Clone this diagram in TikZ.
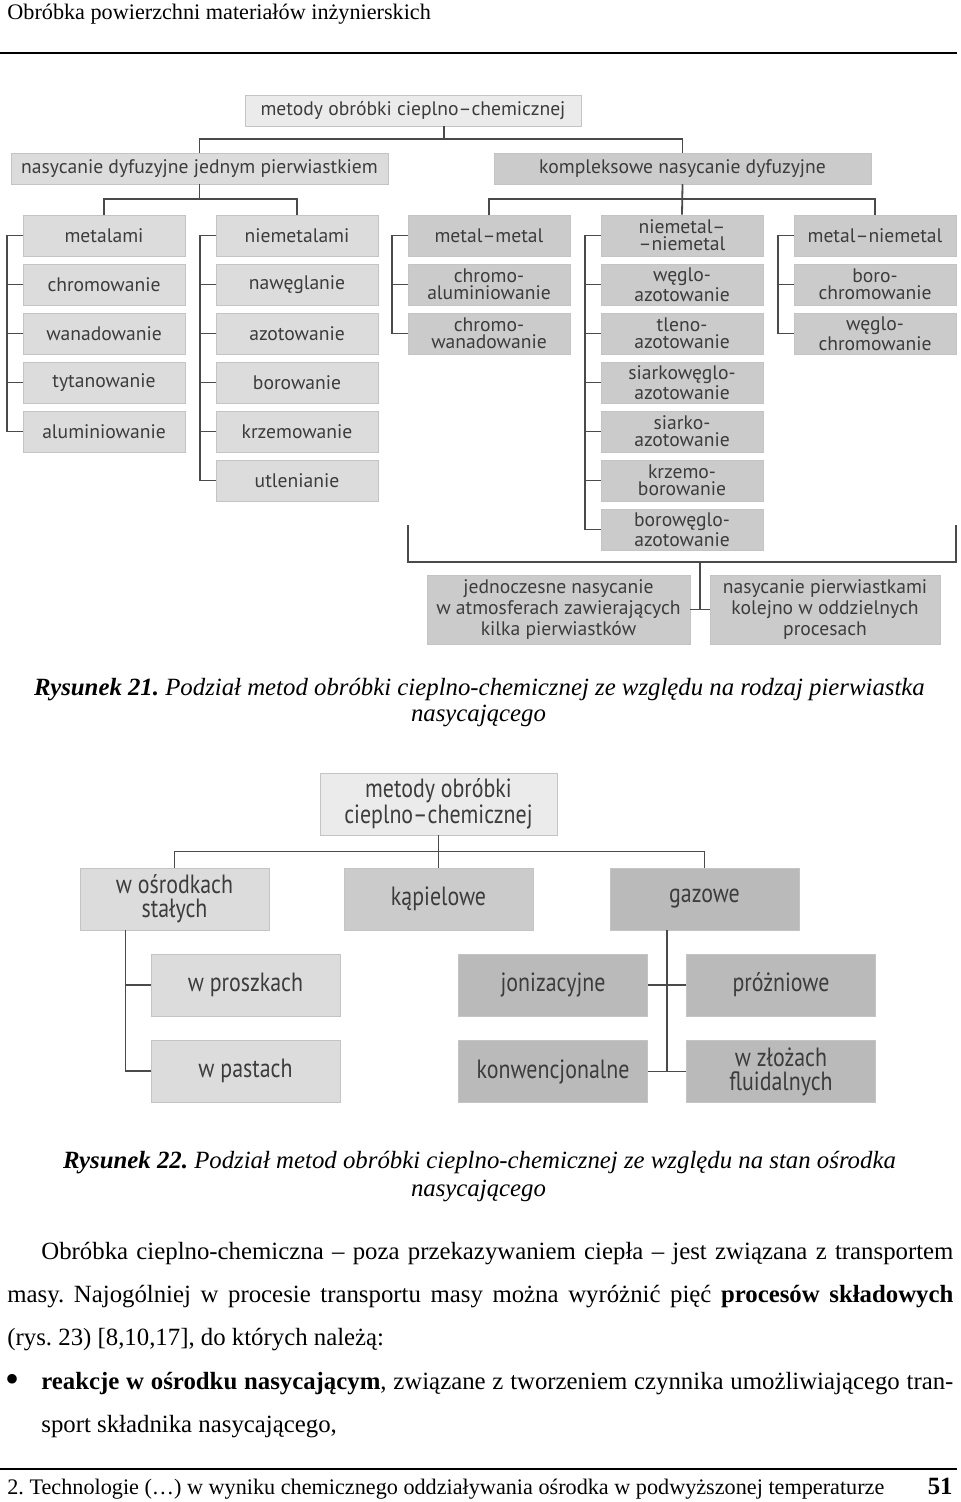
\documentclass[tikz,border=0pt]{standalone}
\usepackage{fontspec}
\setmainfont{Liberation Serif}
\newfontfamily\dfont{PT Sans}
\newfontfamily\dnarrow[FakeStretch=0.83]{PT Sans}
\usetikzlibrary{positioning}
\frenchspacing

\definecolor{boxtext}{HTML}{3C3C3C}
\definecolor{linegray}{HTML}{4A4A4A}
\definecolor{edgegray}{HTML}{C4C4C4}
\definecolor{fillA}{HTML}{EBEBEB}
\definecolor{fillB}{HTML}{DCDCDC}
\definecolor{fillC}{HTML}{CBCBCB}
\definecolor{fillD}{HTML}{BABABA}

\begin{document}
\begin{tikzpicture}[
            x = 0.5pt, y = -0.5pt, % one unit = one pixel of the page
            node distance = 24.5pt, % row pitch
        ]
        \useasboundingbox (0,0) rectangle (960,1502);

        \tikzstyle{box}=[
            rectangle,
            inner sep = 0pt,
            align = center,
            text = boxtext,
            draw = edgegray,
            line width = 0.4pt
        ]
        \tikzstyle{cell}=[box, minimum width = 81pt, minimum height = 20.5pt,
            font = \dfont\fontsize{9.8}{8.6}\selectfont]
        \tikzstyle{cellA}=[cell, fill = fillB]
        \tikzstyle{cellB}=[cell, fill = fillC]
        \tikzstyle{wide}=[box, minimum width = 188.5pt, minimum height = 15.5pt,
            font = \dfont\fontsize{9.8}{10}\selectfont]
        \tikzstyle{big}=[box, minimum width = 94.5pt, minimum height = 31pt,
            font = \dnarrow\fontsize{13.2}{12}\selectfont]
        \tikzstyle{conn}=[draw = linegray, line width = 0.9pt]
        \tikzstyle{body}=[inner sep = 0pt, anchor = base west,
            font = \fontsize{12.4}{14}\selectfont]
        \tikzstyle{caption}=[inner sep = 0pt, anchor = base,
            font = \itshape\fontsize{12.4}{14}\selectfont]

        % page head
        \node[body, font = \fontsize{11.1}{14}\selectfont] (head) at (7,20) {Obróbka powierzchni materiałów inżynierskich};
        \draw[line width = 1pt] (0,53) -- (957,53);

        % Rysunek 21
        \node[box, fill = fillA, minimum width = 168pt, minimum height = 15.5pt,
            font = \dfont\fontsize{9.8}{10}\selectfont] (top1) at (413,110.5) {metody obróbki cieplno–chemicznej};
        \node[wide, fill = fillB] (nas) at (199.5,168.5) {nasycanie dyfuzyjne jednym pierwiastkiem};
        \node[wide, fill = fillC] (kom) at (682.5,168.5) {kompleksowe nasycanie dyfuzyjne};

        \node[cellA] (met0) at (104,235.5) {metalami};
        \node[cellA] (met1) [below of=met0] {chromowanie};
        \node[cellA] (met2) [below of=met1] {wanadowanie};
        \node[cellA] (met3) [below of=met2] {tytanowanie};
        \node[cellA] (met4) [below of=met3] {aluminiowanie};

        \node[cellA] (nie0) at (297,235.5) {niemetalami};
        \node[cellA] (nie1) [below of=nie0] {nawęglanie};
        \node[cellA] (nie2) [below of=nie1] {azotowanie};
        \node[cellA] (nie3) [below of=nie2] {borowanie};
        \node[cellA] (nie4) [below of=nie3] {krzemowanie};
        \node[cellA] (nie5) [below of=nie4] {utlenianie};

        \node[cellB] (mm0) at (489,235.5) {metal–metal};
        \node[cellB] (mm1) [below of=mm0] {chromo-\\aluminiowanie};
        \node[cellB] (mm2) [below of=mm1] {chromo-\\wanadowanie};

        \node[cellB] (nn0) at (682,235.5) {niemetal–\\–niemetal};
        \node[cellB] (nn1) [below of=nn0] {węglo-\\azotowanie};
        \node[cellB] (nn2) [below of=nn1] {tleno-\\azotowanie};
        \node[cellB] (nn3) [below of=nn2] {siarkowęglo-\\azotowanie};
        \node[cellB] (nn4) [below of=nn3] {siarko-\\azotowanie};
        \node[cellB] (nn5) [below of=nn4] {krzemo-\\borowanie};
        \node[cellB] (nn6) [below of=nn5] {borowęglo-\\azotowanie};

        \node[cellB] (mn0) at (875,235.5) {metal–niemetal};
        \node[cellB] (mn1) [below of=mn0] {boro-\\chromowanie};
        \node[cellB] (mn2) [below of=mn1] {węglo-\\chromowanie};

        \node[box, fill = fillC, minimum width = 131.5pt, minimum height = 34.5pt,
            font = \dfont\fontsize{9.8}{10.5}\selectfont] (jed) at (558.5,609.5) {jednoczesne nasycanie\\w atmosferach zawierających\\kilka pierwiastków};
        \node[box, fill = fillC, minimum width = 115pt, minimum height = 34.5pt,
            font = \dfont\fontsize{9.8}{10.5}\selectfont] (kol) at (825,609.5) {nasycanie pierwiastkami\\kolejno w oddzielnych\\procesach};

        \draw[conn] ([xshift=15.5pt]top1.south) -- ++(0,13) -| (nas.north);
        \draw[conn] ([xshift=15.5pt]top1.south) -- ++(0,13) -| (kom.north);
        \draw[conn] (nas.south) -- ++(0,15) -| (met0.north);
        \draw[conn] (nas.south) -- ++(0,15) -| (nie0.north);
        \draw[conn] (kom.south) -- ++(0,15) -| (mm0.north);
        \draw[conn] (kom.south) -- (nn0.north);
        \draw[conn] (kom.south) -- ++(0,15) -| (mn0.north);

        \foreach \col/\last in {met/4, nie/5, mm/2, nn/6, mn/2} {
            \draw[conn] (\col0.west) -- ++(-16,0) |- (\col\last.west);
            \foreach \i in {1,...,\last}
                \draw[conn] (\col\i.west) -- ++(-16,0);
        }

        \coordinate (bl) at (408,525);
        \coordinate (br) at (956,525);
        \coordinate (bm) at (700,562);
        \draw[conn] (bl) |- (bm) -| (br);
        \draw[conn] (bm) -- (bm |- jed.east);
        \draw[conn] (jed.east) -- (kol.west);

        \node[caption] (cap1) at (479.5,695) {\textbf{Rysunek 21.} Podział metod obróbki cieplno-chemicznej ze względu na rodzaj pierwiastka};
        \node[caption] (cap1b) at (478.5,721) {nasycającego};

        % Rysunek 22
        \node[big, fill = fillA, minimum width = 118.5pt] (top2) at (438.5,804) {metody obróbki\\cieplno–chemicznej};
        \node[big, fill = fillB] (osr) at (174.5,899) {w ośrodkach\\stałych};
        \node[big, fill = fillC] (kap) at (438.5,899) {kąpielowe};
        \node[big, fill = fillD] (gaz) at (704.5,899) {gazowe};
        \node[big, fill = fillB] (pro) at (245.5,985) {w proszkach};
        \node[big, fill = fillB] (pas) at (245.5,1071) {w pastach};
        \node[big, fill = fillD] (jon) at (553,985) {jonizacyjne};
        \node[big, fill = fillD] (pra) at (781,985) {próżniowe};
        \node[big, fill = fillD] (kon) at (553,1071.5) {konwencjonalne};
        \node[big, fill = fillD] (zlo) at (781,1071.5) {w złożach\\fluidalnych};

        \draw[conn] (top2.south) -- ++(0,16) -| (osr.north);
        \draw[conn] (top2.south) -- (kap.north);
        \draw[conn] (top2.south) -- ++(0,16) -| (gaz.north);
        \coordinate (os) at ([xshift=-24.5pt]osr.south);
        \draw[conn] (os) |- (pas.west);
        \draw[conn] (os) |- (pro.west);
        \coordinate (gs) at ([xshift=-18.75pt]gaz.south);
        \draw[conn] (gs) -- (gs |- kon.east);
        \draw[conn] (jon.east) -- (pra.west);
        \draw[conn] (kon.east) -- (zlo.west);

        \node[caption] (cap2) at (479.5,1168) {\textbf{Rysunek 22.} Podział metod obróbki cieplno-chemicznej ze względu na stan ośrodka};
        \node[caption] (cap2b) at (478.5,1196) {nasycającego};

        % text of the page
        \node[body] (l1) at (41,1259) {\makebox[456pt][s]{Obróbka cieplno-chemiczna – poza przekazywaniem ciepła – jest związana z transportem}};
        \node[body] (l2) at (7,1302) {\makebox[473pt][s]{masy. Najogólniej w procesie transportu masy można wyróżnić pięć \textbf{procesów składowych}}};
        \node[body] (l3) at (7,1345) {(rys. 23) [8,10,17], do których należą:};
        \node[body, font = \fontsize{20}{20}\selectfont] (dot) at (5,1392) {•};
        \node[body] (l4) at (41,1389) {\makebox[456pt][s]{\textbf{reakcje w ośrodku nasycającym}, związane z tworzeniem czynnika umożliwiającego tran-}};
        \node[body] (l5) at (41,1432) {sport składnika nasycającego,};

        % page foot
        \draw[line width = 1pt] (0,1469) -- (957,1469);
        \node[body, font = \fontsize{11.1}{14}\selectfont] (foot) at (7,1494) {2. Technologie (…) w wyniku chemicznego oddziaływania ośrodka w podwyższonej temperaturze};
        \node[body, anchor = base east, font = \bfseries\fontsize{12.4}{14}\selectfont] (page) at (953,1494) {51};
    \end{tikzpicture}
\end{document}
